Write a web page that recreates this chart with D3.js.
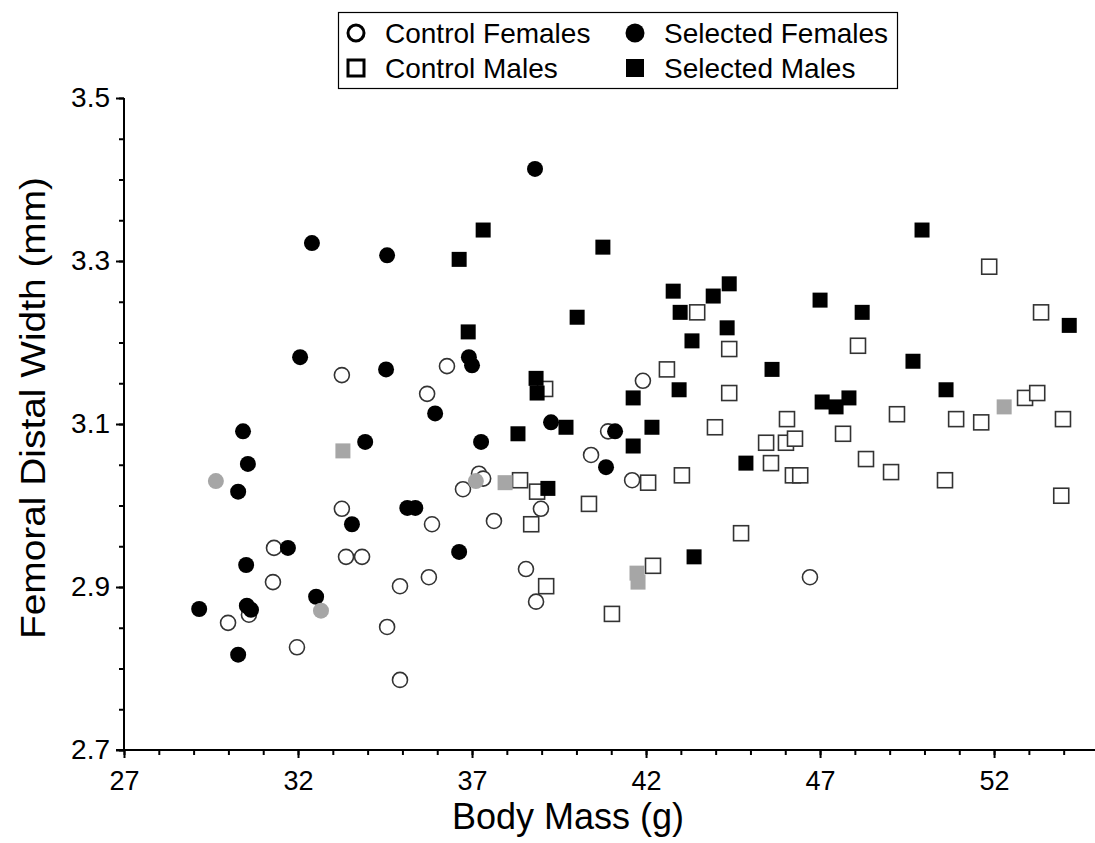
<!DOCTYPE html>
<html>
<head>
<meta charset="utf-8">
<script src="https://cdn.jsdelivr.net/npm/d3@7"></script>
<style>
  html, body { margin: 0; padding: 0; background: #fff; }
  svg { display: block; }
  text { font-family: "Liberation Sans", Arial, sans-serif; fill: #000; }
</style>
</head>
<body>
<svg id="chart" width="1095" height="843"></svg>
<script>
// ---- Data: [body mass (g), femoral distal width (mm)] ----
const controlFemales = [
  [33.26,3.160],[35.71,3.137],[36.28,3.171],[33.26,2.996],[35.85,2.977],[31.31,2.948],
  [33.38,2.937],[33.84,2.937],[31.28,2.906],[34.93,2.901],[35.76,2.912],[30.59,2.866],
  [29.99,2.856],[34.56,2.851],[31.97,2.826],[34.93,2.786],[37.20,3.039],[37.32,3.033],
  [36.74,3.020],[37.63,2.981],[38.98,2.996],[38.55,2.922],[38.84,2.882],[40.42,3.062],
  [41.60,3.031],[40.91,3.091],[41.91,3.153],[46.71,2.912]
];
const selectedFemales = [
  [29.16,2.873],[30.28,2.817],[30.28,3.017],[30.42,3.091],[30.56,3.051],[30.51,2.927],
  [30.53,2.877],[30.65,2.872],[31.71,2.948],[32.06,3.182],[32.40,3.322],[32.52,2.888],
  [33.55,2.977],[33.93,3.078],[34.56,3.307],[34.53,3.167],[35.14,2.997],[35.37,2.997],
  [35.94,3.113],[36.63,2.943],[36.91,3.182],[37.00,3.172],[37.26,3.078],[38.81,3.413],
  [39.27,3.102],[40.85,3.047],[41.11,3.091]
];
const controlMales = [
  [38.38,3.031],[38.87,3.017],[38.70,2.977],[39.10,3.143],[39.13,2.901],[40.36,3.002],
  [41.02,2.867],[42.06,3.028],[42.20,2.926],[42.60,3.167],[43.03,3.037],[43.47,3.237],
  [43.98,3.096],[44.39,3.192],[44.39,3.138],[44.73,2.966],[45.45,3.077],[45.59,3.052],
  [46.02,3.077],[46.05,3.106],[46.28,3.082],[46.22,3.037],[46.43,3.037],[47.66,3.088],
  [48.09,3.196],[48.32,3.057],[49.04,3.041],[49.21,3.112],[50.59,3.031],[50.91,3.106],
  [51.63,3.102],[51.86,3.293],[52.89,3.132],[53.24,3.138],[53.35,3.237],[53.98,3.106],
  [53.93,3.012]
];
const selectedMales = [
  [36.63,3.302],[37.32,3.338],[36.89,3.213],[38.84,3.156],[38.87,3.138],[38.32,3.088],
  [39.70,3.096],[39.18,3.021],[40.02,3.231],[40.76,3.317],[41.63,3.132],[41.63,3.073],
  [42.17,3.096],[42.78,3.263],[42.98,3.237],[42.95,3.142],[43.32,3.202],[43.38,2.937],
  [43.93,3.257],[44.39,3.272],[44.33,3.218],[44.87,3.052],[45.62,3.167],[47.00,3.252],
  [47.06,3.127],[47.46,3.121],[47.83,3.132],[48.21,3.237],[49.67,3.177],[49.93,3.338],
  [50.62,3.142],[54.16,3.221]
];
const grayCircles = [[29.64,3.030],[32.66,2.871],[37.11,3.030]];
const graySquares = [[33.29,3.067],[37.95,3.028],[41.74,2.917],[41.77,2.906],[52.29,3.121]];

const xMajorTicks = [27, 32, 37, 42, 47, 52];
const yMajorTicks = [2.7, 2.9, 3.1, 3.3, 3.5];
const xTitle = "Body Mass (g)";
const yTitle = "Femoral Distal Width (mm)";
const legendItems = [
  {label: "Control Females", shape: "circle", filled: false},
  {label: "Selected Females", shape: "circle", filled: true},
  {label: "Control Males", shape: "square", filled: false},
  {label: "Selected Males", shape: "square", filled: true}
];

// ---- Layout ----
const svg = d3.select("#chart");
const x = d3.scaleLinear().domain([27, 54.9]).range([124, 1095]);
const y = d3.scaleLinear().domain([2.7, 3.5]).range([750, 98]);
const R = 7.5, S = 15;

const xMinor = d3.range(27, 55, 1);
const yMinor = d3.range(2.7, 3.5001, 0.05);

// minor ticks
svg.append("g").attr("transform", "translate(0,750)")
  .call(d3.axisBottom(x).tickValues(xMinor).tickSize(5).tickFormat("").tickSizeOuter(0))
  .call(g => g.select(".domain").remove())
  .call(g => g.selectAll("line").attr("stroke", "#000").attr("stroke-width", 2));
svg.append("g").attr("transform", "translate(124,0)")
  .call(d3.axisLeft(y).tickValues(yMinor).tickSize(5).tickFormat("").tickSizeOuter(0))
  .call(g => g.select(".domain").remove())
  .call(g => g.selectAll("line").attr("stroke", "#000").attr("stroke-width", 2));

// major axes
const xAxis = svg.append("g").attr("transform", "translate(0,750)")
  .call(d3.axisBottom(x).tickValues(xMajorTicks).tickSize(8).tickSizeOuter(0).tickPadding(13).tickFormat(d3.format("d")));
xAxis.select(".domain").attr("d", `M116,0H1095`).attr("stroke", "#000").attr("stroke-width", 2);
xAxis.selectAll("line").attr("stroke", "#000").attr("stroke-width", 2);
xAxis.selectAll("text").attr("font-size", 27).attr("font-family", "Liberation Sans, Arial, sans-serif").attr("fill", "#000");

const yAxis = svg.append("g").attr("transform", "translate(124,0)")
  .call(d3.axisLeft(y).tickValues(yMajorTicks).tickSize(8).tickSizeOuter(0).tickPadding(6).tickFormat(d3.format(".1f")));
yAxis.select(".domain").attr("d", `M0,${y(3.5)}V${y(2.7)}`).attr("stroke", "#000").attr("stroke-width", 2);
yAxis.selectAll("line").attr("stroke", "#000").attr("stroke-width", 2);
yAxis.selectAll("text").attr("font-size", 28).attr("font-family", "Liberation Sans, Arial, sans-serif").attr("fill", "#000");

// titles
svg.append("text").attr("x", 568).attr("y", 829).attr("text-anchor", "middle")
  .attr("font-size", 36).text(xTitle);
svg.append("text").attr("transform", "translate(45,408) rotate(-90) scale(1.08,1)").attr("text-anchor", "middle")
  .attr("font-size", 36).text(yTitle);

// ---- Marks ----
const plot = svg.append("g");
function drawSeries(data, shape, fill, stroke) {
  if (shape === "circle") {
    plot.selectAll(null).data(data).enter().append("circle")
      .attr("cx", d => x(d[0])).attr("cy", d => y(d[1])).attr("r", stroke === "none" ? 8 : R)
      .attr("fill", fill).attr("stroke", stroke).attr("stroke-width", stroke === "none" ? 0 : 1.6);
  } else {
    plot.selectAll(null).data(data).enter().append("rect")
      .attr("x", d => x(d[0]) - S / 2).attr("y", d => y(d[1]) - S / 2)
      .attr("width", S).attr("height", S)
      .attr("fill", fill).attr("stroke", stroke).attr("stroke-width", stroke === "none" ? 0 : 1.6);
  }
}
drawSeries(controlFemales, "circle", "#fff", "#333");
drawSeries(controlMales, "square", "#fff", "#333");
drawSeries(selectedFemales, "circle", "#000", "none");
drawSeries(selectedMales, "square", "#000", "none");
drawSeries(grayCircles, "circle", "#a6a6a6", "none");
drawSeries(graySquares, "square", "#a6a6a6", "none");

// ---- Legend ----
const lg = svg.append("g");
lg.append("rect").attr("x", 338.5).attr("y", 12.5).attr("width", 559).attr("height", 76)
  .attr("fill", "#fff").attr("stroke", "#000").attr("stroke-width", 1.2);
const colX = [356, 635], rowY = [33, 68];
legendItems.forEach((it, i) => {
  const cx = colX[i % 2], cy = rowY[Math.floor(i / 2)];
  if (it.shape === "circle") {
    lg.append("circle").attr("cx", cx).attr("cy", cy).attr("r", it.filled ? 9.5 : 8)
      .attr("fill", it.filled ? "#000" : "#fff").attr("stroke", "#000").attr("stroke-width", it.filled ? 0 : 3);
  } else {
    const s = it.filled ? 18 : 16;
    lg.append("rect").attr("x", cx - s / 2).attr("y", cy - s / 2).attr("width", s).attr("height", s)
      .attr("fill", it.filled ? "#000" : "#fff").attr("stroke", "#000").attr("stroke-width", it.filled ? 0 : 3);
  }
  lg.append("text").attr("x", cx + 29).attr("y", cy + 10).attr("font-size", 28).text(it.label);
});
</script>
</body>
</html>
